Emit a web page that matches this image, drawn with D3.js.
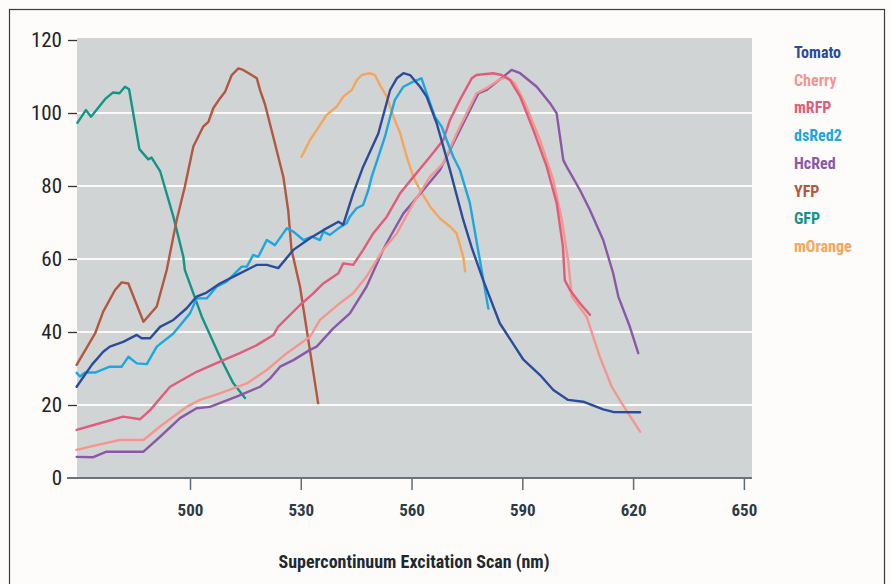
<!DOCTYPE html>
<html>
<head>
<meta charset="utf-8">
<script src="https://cdn.jsdelivr.net/npm/d3@7"></script>
<style>
  body { margin: 0; background: #fdfcfb; }
  text { font-family: "Liberation Sans Narrow", "Arial Narrow", "Roboto Condensed", sans-serif; }
</style>
</head>
<body>
<div id="chart"></div>
<script>
const width = 890;
const height = 584;
const plot = { left: 77, right: 752, top: 38, bottom: 478 };

const xTicks = [500, 530, 560, 590, 620, 650];
const yTicks = [0, 20, 40, 60, 80, 100, 120];

const names = ["Tomato", "Cherry", "mRFP", "dsRed2", "HcRed", "YFP", "GFP", "mOrange"];
const colors = ["#2b4c9c", "#f4968f", "#e05c7a", "#1ba7e1", "#8a58a8", "#b3573f", "#149488", "#f5a65b"];

// [wavelength nm, signal]
const tomato = [[469.3,25.0],[473.4,31.0],[476.5,34.6],[478.3,36.0],[481.9,37.3],[485.6,39.2],[486.9,38.3],[489.2,38.3],[491.9,41.4],[495.5,43.3],[499.1,46.5],[501.8,49.7],[504.5,50.8],[508.1,53.3],[512.6,55.6],[518.1,58.4],[520.8,58.4],[523.9,57.5],[528.0,62.5],[532.5,65.7],[536.1,67.9],[540.2,70.2],[541.5,69.4],[544.2,78.0],[546.9,85.3],[551.0,94.4],[554.2,106.3],[556.0,109.5],[557.8,110.9],[559.6,110.4],[562.3,107.2],[564.1,104.5],[566.8,97.2],[570.4,84.4],[574.0,70.7],[576.3,63.1],[579.4,54.2],[583.9,42.4],[590.3,32.4],[594.8,28.2],[598.4,24.1],[602.4,21.4],[606.5,20.9],[611.9,18.8],[614.6,18.1],[621.9,18.0]];
const cherry = [[469.3,7.7],[474.7,9.0],[481.0,10.4],[487.4,10.4],[491.9,14.1],[499.1,19.5],[502.7,21.4],[508.1,23.2],[515.4,25.9],[520.8,29.6],[526.2,34.2],[532.5,38.7],[535.2,43.3],[540.6,47.9],[544.2,50.6],[547.8,55.2],[552.3,62.5],[556.0,67.0],[560.5,75.3],[565.0,82.5],[568.6,86.2],[572.2,94.4],[574.9,99.9],[577.6,105.4],[580.3,106.8],[583.5,109.0],[585.8,109.9],[588.0,108.1],[590.7,102.7],[594.8,92.6],[598.4,81.6],[600.7,70.7],[602.4,59.7],[603.4,49.7],[607.4,44.2],[611.0,33.2],[614.2,25.0],[616.9,20.5],[621.9,12.7]];
const mrfp = [[469.3,13.2],[475.6,15.0],[481.9,16.8],[486.5,16.1],[489.2,18.6],[494.6,25.0],[501.8,29.1],[508.1,31.9],[513.5,34.2],[518.1,36.4],[522.6,39.2],[523.9,41.5],[529.8,47.4],[533.4,50.6],[536.1,53.3],[540.2,56.1],[541.5,58.8],[544.2,58.4],[546.9,62.5],[549.6,67.0],[553.3,71.6],[556.9,78.0],[560.5,82.5],[565.0,88.0],[568.6,92.6],[570.4,98.1],[573.1,103.6],[576.3,109.5],[577.6,110.4],[582.1,110.9],[584.4,110.4],[586.7,109.0],[589.4,104.5],[593.0,95.3],[596.6,85.3],[599.3,75.3],[601.0,63.4],[601.5,54.2],[602.9,51.5],[605.6,47.9],[608.3,44.7]];
const dsred2 = [[469.3,28.8],[470.2,27.8],[471.6,28.9],[474.3,28.9],[478.3,30.5],[481.5,30.5],[483.3,33.2],[485.6,31.4],[488.3,31.2],[491.0,36.0],[495.5,39.6],[500.0,45.1],[501.8,49.2],[504.5,49.2],[507.2,52.4],[509.9,53.8],[511.7,55.6],[514.0,57.9],[515.4,57.9],[517.1,61.1],[518.5,60.6],[520.8,65.2],[523.0,63.8],[526.2,68.4],[528.0,67.5],[530.7,65.2],[533.0,66.1],[535.2,65.2],[536.1,67.5],[537.9,66.6],[540.2,68.4],[542.4,69.8],[543.3,71.6],[545.1,73.9],[546.9,74.8],[548.3,78.9],[549.2,82.5],[551.0,88.0],[552.8,93.5],[554.2,98.9],[555.5,103.6],[557.8,107.2],[560.5,108.6],[562.7,109.5],[564.1,105.4],[566.3,99.0],[568.2,96.2],[569.5,92.6],[571.3,88.0],[573.1,84.4],[575.8,75.3],[580.8,46.4]];
const hcred = [[469.3,5.8],[473.8,5.7],[477.4,7.2],[487.4,7.2],[491.9,11.3],[497.3,16.4],[501.8,19.1],[505.4,19.5],[512.6,22.3],[519.0,25.0],[521.7,27.3],[524.4,30.5],[528.0,32.3],[532.5,35.1],[534.3,36.0],[538.8,41.0],[543.3,45.1],[547.8,52.4],[552.3,62.5],[554.2,66.1],[557.8,72.5],[563.2,78.9],[567.7,84.4],[572.2,93.5],[578.1,105.4],[580.3,106.3],[584.8,109.9],[587.1,111.8],[589.4,110.9],[593.9,107.2],[597.5,102.7],[599.3,99.9],[601.1,87.1],[602.0,85.3],[605.6,78.9],[608.3,73.4],[611.9,65.2],[614.6,56.1],[616.0,49.7],[619.1,41.5],[621.4,34.2]];
const yfp = [[469.3,31.0],[474.3,39.6],[476.5,45.6],[479.7,51.5],[481.5,53.6],[483.3,53.3],[487.4,42.8],[491.0,47.0],[493.7,57.0],[496.4,70.7],[498.6,79.8],[500.9,90.8],[503.6,96.3],[505.0,97.6],[506.3,101.3],[508.1,104.0],[509.5,105.8],[511.3,110.4],[513.1,112.2],[514.4,111.8],[516.7,110.4],[518.1,109.5],[519.0,106.2],[520.3,102.4],[522.6,93.3],[525.3,82.4],[526.6,73.3],[527.5,62.5],[529.8,52.4],[534.7,20.5]];
const gfp = [[469.5,97.3],[471.8,100.8],[473.2,99.0],[477.0,103.8],[479.1,105.6],[480.9,105.4],[482.4,107.2],[483.5,106.5],[486.3,90.1],[488.7,87.3],[489.6,87.8],[491.9,84.1],[495.5,71.6],[498.2,60.6],[498.6,57.0],[503.2,44.2],[508.1,33.2],[511.7,26.0],[514.9,21.9]];
const morange = [[530.2,88.0],[532.5,92.6],[535.2,96.7],[537.0,99.5],[539.7,101.7],[541.5,104.5],[543.8,106.3],[545.2,109.0],[546.5,110.4],[548.7,110.9],[550.1,110.4],[551.4,107.7],[553.3,104.5],[555.1,99.0],[556.9,94.5],[558.7,88.0],[560.5,82.5],[562.3,78.9],[565.0,74.4],[567.7,71.1],[570.4,68.9],[572.2,67.0],[574.0,60.6],[574.5,56.6]];

const seriesData = [tomato, cherry, mrfp, dsred2, hcred, yfp, gfp, morange];
// draw order: back to front
const drawOrder = [6, 5, 7, 4, 1, 2, 3, 0];

const svg = d3.select("#chart").append("svg")
  .attr("width", width)
  .attr("height", height);

// outer frame
svg.append("rect")
  .attr("x", 9.5).attr("y", 9.5)
  .attr("width", 875).attr("height", 600)
  .attr("fill", "none")
  .attr("stroke", "#3a3a3a")
  .attr("stroke-width", 1.2);

const x = d3.scaleLinear().domain([469.4, 652.2]).range([plot.left, plot.right]);
const y = d3.scaleLinear().domain([0, 120]).range([plot.bottom, 40]);

svg.append("rect")
  .attr("x", plot.left).attr("y", plot.top)
  .attr("width", plot.right - plot.left)
  .attr("height", plot.bottom - plot.top)
  .attr("fill", "#d1d4d4");

// white gridlines
svg.append("g")
  .selectAll("line")
  .data(yTicks.filter(d => d > 0 && d < 120))
  .join("line")
  .attr("x1", plot.left).attr("x2", plot.right)
  .attr("y1", d => y(d)).attr("y2", d => y(d))
  .attr("stroke", "#fbf8f6")
  .attr("stroke-width", 2);

// y axis: short dashes left of the plot, no domain line
const yAxis = svg.append("g")
  .attr("transform", "translate(" + plot.left + ",0)")
  .call(d3.axisLeft(y).tickValues(yTicks).tickSize(9).tickPadding(6));
yAxis.select(".domain").remove();
yAxis.selectAll(".tick line").attr("stroke", "#333").attr("stroke-width", 1.3);
yAxis.selectAll(".tick text")
  .style("font-size", "21px")
  .attr("fill", "#222");
yAxis.selectAll(".tick").filter(d => d === 0).select("line").remove();

// x axis
const xAxis = svg.append("g")
  .attr("transform", "translate(0," + plot.bottom + ")")
  .call(d3.axisBottom(x).tickValues(xTicks).tickSize(12).tickPadding(14));
xAxis.select(".domain").remove();
xAxis.selectAll(".tick line").attr("stroke", "#5f6b74").attr("stroke-width", 1.5);
xAxis.selectAll(".tick text")
  .style("font-size", "17px")
  .style("font-weight", "bold")
  .attr("fill", "#2e3a44");

svg.append("line")
  .attr("x1", 67).attr("x2", plot.right)
  .attr("y1", plot.bottom).attr("y2", plot.bottom)
  .attr("stroke", "#6b7379")
  .attr("stroke-width", 2);

// curves
const line = d3.line()
  .x(d => x(d[0]))
  .y(d => y(d[1]));

svg.append("g")
  .selectAll("path")
  .data(drawOrder)
  .join("path")
  .attr("d", i => line(seriesData[i]))
  .attr("fill", "none")
  .attr("stroke", i => colors[i])
  .attr("stroke-width", 2.4)
  .attr("stroke-linejoin", "round")
  .attr("stroke-linecap", "round");

// legend
svg.append("g")
  .selectAll("text")
  .data(names)
  .join("text")
  .attr("x", 794)
  .attr("y", (d, i) => 58 + i * 27.7)
  .attr("fill", (d, i) => colors[i])
  .style("font-size", "16px")
  .style("font-weight", "bold")
  .text(d => d);

// x title
svg.append("text")
  .attr("x", 414)
  .attr("y", 568)
  .attr("text-anchor", "middle")
  .attr("fill", "#1f2a30")
  .style("font-size", "18px")
  .style("font-weight", "bold")
  .text("Supercontinuum Excitation Scan (nm)");
</script>
</body>
</html>
